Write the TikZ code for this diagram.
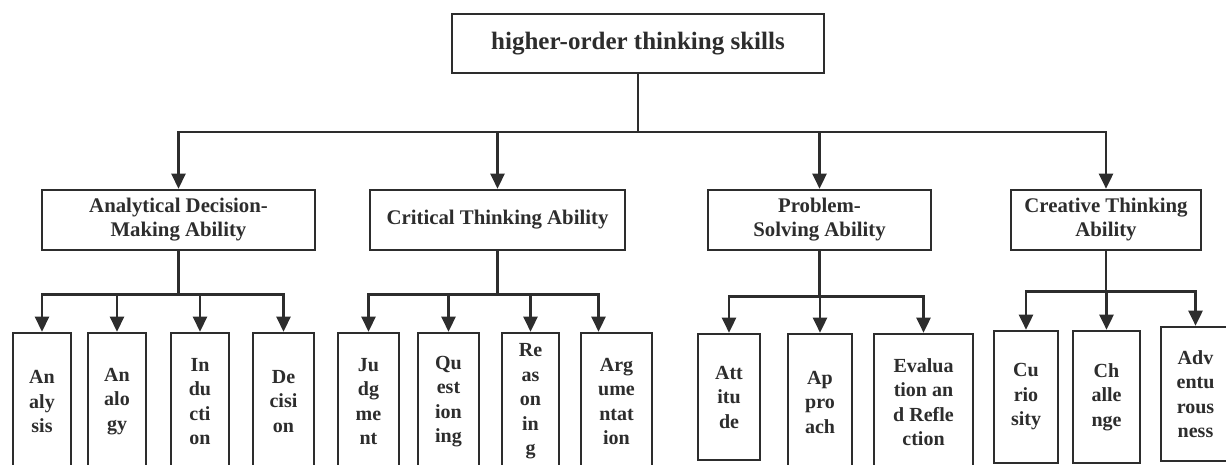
\documentclass[tikz,border=0pt]{standalone}
\usepackage{fontspec}
\setmainfont{Liberation Serif}
\usetikzlibrary{arrows.meta}
\definecolor{ink}{RGB}{45,45,45}
\tikzset{
  box/.style={draw=ink, line width=2.6pt, fill=white, text=ink, align=center, inner sep=2pt,
    font=\bfseries\fontsize{20}{24.5}\selectfont},
  mid/.style={box, font=\bfseries\fontsize{20.8}{24}\selectfont},
  root/.style={box, font=\bfseries\fontsize{25}{30}\selectfont},
  link/.style={draw=ink, line width=2.6pt},
  >={Triangle[width=14pt,length=15pt]},
}

\begin{document}
\begin{tikzpicture}[x=1pt, y=-1pt]
\useasboundingbox (0,0) rectangle (1226,465);
\clip (0,0) rectangle (1226,465);

\node[root, minimum width=372pt, minimum height=59pt] (hots) at (638,43.5) {higher-order thinking skills};

\node[mid, minimum width=273pt, minimum height=60pt] (ada) at (178.5,220) {Analytical Decision-\\Making Ability};
\node[mid, minimum width=255pt, minimum height=60pt] (cta) at (497.5,220) {Critical Thinking Ability};
\node[mid, minimum width=223pt, minimum height=60pt] (psa) at (819.5,220) {Problem-\\Solving Ability};
\node[mid, minimum width=190pt, minimum height=60pt] (cra) at (1106,220) {Creative Thinking\\Ability};

\node[box, minimum width=58pt, minimum height=137pt] (ana) at (42,401.5) {An\\aly\\sis};
\node[box, minimum width=58pt, minimum height=137pt] (alg) at (117,401.5) {An\\alo\\gy};
\node[box, minimum width=58pt, minimum height=137pt] (ind) at (200,401.5) {In\\du\\cti\\on};
\node[box, minimum width=61pt, minimum height=137pt] (dec) at (283.5,401.5) {De\\cisi\\on};

\node[box, minimum width=61pt, minimum height=137pt] (jud) at (368.5,401.5) {Ju\\dg\\me\\nt};
\node[box, minimum width=61pt, minimum height=137pt] (que) at (448.5,401.5) {Qu\\est\\ion\\ing};
\node[box, minimum width=57pt, minimum height=137pt] (rea) at (530.5,401.5) {Re\\as\\on\\in\\g};
\node[box, minimum width=71pt, minimum height=137pt] (arg) at (616.5,401.5) {Arg\\ume\\ntat\\ion};

\node[box, minimum width=62pt, minimum height=126pt] (att) at (729,397) {Att\\itu\\de};
\node[box, minimum width=64pt, minimum height=136pt] (app) at (820,402) {Ap\\pro\\ach};
\node[box, minimum width=99pt, minimum height=136pt] (eva) at (923.5,402) {Evalua\\tion an\\d Refle\\ction};

\node[box, minimum width=64pt, minimum height=132pt] (cur) at (1026,397) {Cu\\rio\\sity};
\node[box, minimum width=67pt, minimum height=132pt] (cha) at (1106.5,397) {Ch\\alle\\nge};
\node[box, minimum width=69pt, minimum height=134pt] (adv) at (1195.5,394) {Adv\\entu\\rous\\ness};

\coordinate (bus0) at (638,132);
\path (ada.south) ++(0,43) coordinate (busA);
\path (cta.south) ++(0,43) coordinate (busB);
\path (psa.south) ++(0,45) coordinate (busC);
\path (cra.south) ++(0,40) coordinate (busD);

\foreach \n in {ada,cta,psa,cra}
  \draw[link,->] (hots.south) -- (bus0) -| (\n.north);
\foreach \n in {ana,alg,ind,dec}
  \draw[link,->] (ada.south) -- (busA) -| (\n.north);
\foreach \n in {jud,que,rea}
  \draw[link,->] (cta.south) -- (busB) -| (\n.north);
\draw[link,->] (cta.south) -- (busB) -| ([xshift=-18pt]arg.north);
\foreach \n in {att,app,eva}
  \draw[link,->] (psa.south) -- (busC) -| (\n.north);
\foreach \n in {cur,cha,adv}
  \draw[link,->] (cra.south) -- (busD) -| (\n.north);
\end{tikzpicture}
\end{document}
